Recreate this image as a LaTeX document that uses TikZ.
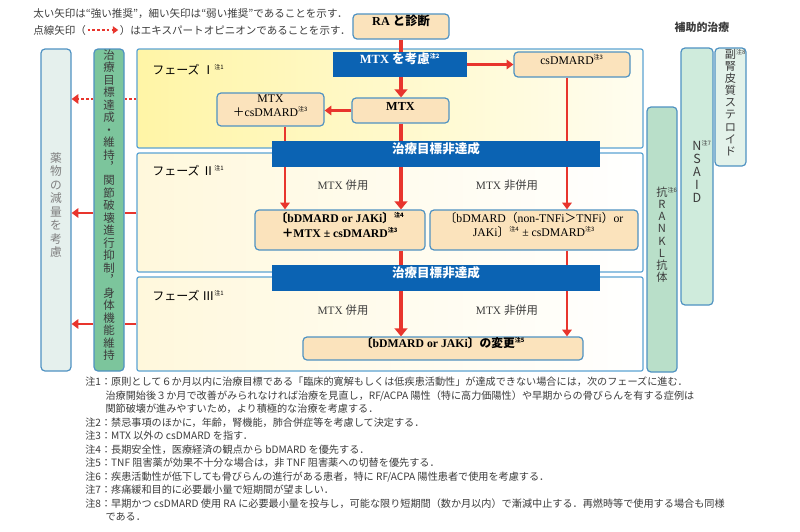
\documentclass[tikz,border=0pt]{standalone}
\usepackage{fontspec}
\setmainfont{Liberation Serif}
\newfontfamily\jp{Noto Sans CJK JP}
\usetikzlibrary{arrows.meta,fit,positioning}

\definecolor{arrowred}{HTML}{E8352D}
\definecolor{barblue}{HTML}{0B63B3}
\definecolor{boxfill}{HTML}{FBE3BC}
\definecolor{boxline}{HTML}{4F92C2}
\definecolor{panelline}{HTML}{5BA3D3}
\definecolor{goalgreen}{HTML}{7CC59C}
\definecolor{ranklfill}{HTML}{B9DFC9}
\definecolor{nsaidfill}{HTML}{CFEBDC}
\definecolor{sterfill}{HTML}{E3F2EA}
\definecolor{reducefill}{HTML}{E5F0ED}
\definecolor{phaseIa}{HTML}{FFF5A6}
\definecolor{phaseIb}{HTML}{FFFDF0}
\definecolor{phaseIIa}{HTML}{FFF8DC}
\definecolor{inkgrey}{HTML}{3C3C3C}

\newcommand{\chu}[1]{\textsuperscript{\jp\fontsize{4.5}{5}\selectfont 注#1}}
\newcommand{\jt}[1]{{\jp #1}}

\begin{document}
\begin{tikzpicture}[x=0.75pt, y=-0.75pt,
  box/.style={draw=boxline, line width=0.9pt, fill=boxfill, rounded corners=3pt, inner sep=0pt, align=center, font=\fontsize{8.8}{10.6}\selectfont},
  bar/.style={fill=barblue, inner sep=0pt, text=white, font=\bfseries\fontsize{9.4}{10}\selectfont},
  panel/.style={draw=panelline, line width=0.9pt, rounded corners=1.5pt, inner sep=0pt},
  col/.style={draw=boxline, line width=0.9pt, rounded corners=3pt, inner sep=0pt, align=center, text=inkgrey},
  phase/.style={inner sep=0pt, anchor=west, font=\jp\fontsize{9}{10}\selectfont},
  lab/.style={inner sep=0pt, text=inkgrey, font=\fontsize{8.5}{10}\selectfont},
  note/.style={inner sep=0pt, text=inkgrey, font=\jp\fontsize{7.9}{10}\selectfont},
  strongline/.style={arrowred, line width=3.6pt},
  strongarr/.style={strongline, -{Triangle[length=6pt,width=9.5pt]}},
  weakline/.style={arrowred, line width=1.8pt},
  weakarr/.style={weakline, -{Triangle[length=5pt,width=7pt]}},
  expert/.style={arrowred, line width=1.8pt, dash pattern=on 2pt off 1.6pt}]
\useasboundingbox (0,0) rectangle (800,532);
\fill[white] (0,0) rectangle (800,532);

% legend
\node[note, anchor=west] (hd1) at (33,14) {太い矢印は“強い推奨”，細い矢印は“弱い推奨”であることを示す．};
\node[note, anchor=west] (hd2) at (33,30) {点線矢印（};
\node[note, right=25pt of hd2] (hd3) {）はエキスパートオピニオンであることを示す．};
\draw[expert, line width=1.5pt, -{Triangle[length=4pt,width=5.5pt]}] ([xshift=1pt]hd2.east) -- ([xshift=-1pt]hd3.west);

% phases
\node[panel, fit={(137,49)(643,148)}, left color=phaseIa, right color=phaseIb] (ph1) {};
\node[panel, fit={(137,153)(643,272)}, left color=phaseIIa, right color=white] (ph2) {};
\node[panel, fit={(137,277)(643,371)}, left color=phaseIIa, right color=white] (ph3) {};
\node[phase] (t1) at (152,70) {フェーズ Ⅰ\chu{1}};
\node[phase] (t2) at (152,171) {フェーズ Ⅱ\chu{1}};
\node[phase] (t3) at (152,296) {フェーズ Ⅲ\chu{1}};

% side columns
\node[col, fill=reducefill, fit={(41,49)(71,371)}, text=gray, font=\jp\fontsize{8.8}{10.1}\selectfont] (reduce) {薬\\物\\の\\減\\量\\を\\考\\慮};
\node[col, fill=goalgreen, fit={(94,49)(124,371)}, text=inkgrey, font=\jp\fontsize{8.6}{9.4}\selectfont] (goal) {治\\療\\目\\標\\達\\成\\・\\維\\持\\︐\\関\\節\\破\\壊\\進\\行\\抑\\制\\︐\\身\\体\\機\\能\\維\\持};
\node[col, fill=ranklfill, fit={(647,107)(677,372)}, font=\jp\fontsize{8.4}{9.1}\selectfont] (rankl) {抗\rlap{\raisebox{3pt}{\fontsize{4.5}{5}\selectfont 注6}}\\R\\A\\N\\K\\L\\抗\\体};
\node[col, fill=nsaidfill, fit={(681,48)(713,305)}, font=\jp\fontsize{9.4}{9.8}\selectfont] (nsaid) {N\rlap{\raisebox{4pt}{\fontsize{4.5}{5}\selectfont 注7}}\\S\\A\\I\\D};
\node[col, fill=sterfill, fit={(715,48)(746,166)}, font=\jp\fontsize{8.4}{9.1}\selectfont] (ster) {副\rlap{\raisebox{3pt}{\fontsize{4.5}{5}\selectfont 注8}}\\腎\\皮\\質\\ス\\テ\\ロ\\イ\\ド};
\node[inner sep=0pt, font=\jp\bfseries\fontsize{8.2}{10}\selectfont, text=inkgrey] (aux) at (702,27) {補助的治療};

% flow
\node[box, fit={(353,14)(449,39)}, font=\bfseries\fontsize{9.2}{10}\selectfont] (ra) {RA \jt{と診断}};
\node[bar, fit={(333,52)(467,77)}] (consider) {MTX \jt{を考慮}\chu{2}};
\node[box, fit={(514,52)(630,77)}] (csd) {csDMARD\chu{3}};
\node[box, fit={(352,98)(449,123)}, font=\bfseries\fontsize{9.2}{10}\selectfont] (mtx) {MTX};
\node[box, fit={(217,93)(324,126)}] (mtxcs) {MTX\\\jt{＋}csDMARD\chu{3}};
\node[bar, fit={(272,141)(600,167)}] (nr1) {\jt{治療目標非達成}};
\node[box, fit={(255,210)(425,250)}, font=\bfseries\fontsize{8.8}{11}\selectfont] (combo) {\jt{〔}bDMARD or JAKi\jt{〕}\chu{4}\\\jt{＋}MTX ± csDMARD\chu{3}};
\node[box, fit={(430,210)(638,250)}] (nocombo) {\jt{〔}bDMARD\jt{（}non-TNFi\jt{＞}TNFi\jt{）}or\\JAKi\jt{〕}\chu{4} ± csDMARD\chu{3}};
\node[bar, fit={(272,265)(600,291)}] (nr2) {\jt{治療目標非達成}};
\node[box, fit={(303,337)(583,360)}, font=\bfseries\fontsize{8.8}{10}\selectfont] (change) {\jt{〔}bDMARD or JAKi\jt{〕の変更}\chu{5}};

\node[lab] (with1) at (343,185) {MTX \jt{併用}};
\node[lab] (wo1) at (507,185) {MTX \jt{非併用}};
\node[lab] (with2) at (343,310) {MTX \jt{併用}};
\node[lab] (wo2) at (507,310) {MTX \jt{非併用}};

\coordinate (xL) at (285,0);
\coordinate (xM) at (401,0);
\coordinate (xR) at (567,0);
\coordinate (r1) at (0,99);
\coordinate (r2) at (0,213);
\coordinate (r3) at (0,324);

% arrows
\draw[strongline] (ra.south -| xM) -- (consider.north -| xM);
\draw[strongarr] (consider.south -| xM) -- (mtx.north -| xM);
\draw[weakarr] (consider.east) -- (csd.west);
\draw[weakarr] (mtx.west) -- (mtxcs.east |- mtx.west);
\draw[strongline] (mtx.south -| xM) -- (nr1.north -| xM);
\draw[weakline] (mtxcs.south -| xL) -- (nr1.north -| xL);
\draw[weakline] (csd.south -| xR) -- (nr1.north -| xR);
\draw[weakarr] (nr1.south -| xL) -- (combo.north -| xL);
\draw[strongarr] (nr1.south -| xM) -- (combo.north -| xM);
\draw[weakarr] (nr1.south -| xR) -- (nocombo.north -| xR);
\draw[strongline] (combo.south -| xM) -- (nr2.north -| xM);
\draw[weakline] (nocombo.south -| xR) -- (nr2.north -| xR);
\draw[strongarr] (nr2.south -| xM) -- (change.north -| xM);
\draw[weakarr] (nr2.south -| xR) -- (change.north -| xR);

\draw[expert] (ph1.west |- r1) -- (goal.east |- r1);
\draw[expert, -{Triangle[length=5pt,width=7pt]}] (goal.west |- r1) -- (reduce.east |- r1);
\draw[weakline] (ph2.west |- r2) -- (goal.east |- r2);
\draw[weakarr] (goal.west |- r2) -- (reduce.east |- r2);
\draw[weakline] (ph3.west |- r3) -- (goal.east |- r3);
\draw[weakarr] (goal.west |- r3) -- (reduce.east |- r3);

% notes
\node[note, anchor=north west, align=left, font=\jp\fontsize{7.6}{10.1}\selectfont] (notes) at (85,377) {%
注1：原則として６か月以内に治療目標である「臨床的寛解もしくは低疾患活動性」が達成できない場合には，次のフェーズに進む．\\
\hspace*{2em}治療開始後３か月で改善がみられなければ治療を見直し，RF/ACPA 陽性（特に高力価陽性）や早期からの骨びらんを有する症例は\\
\hspace*{2em}関節破壊が進みやすいため，より積極的な治療を考慮する．\\
注2：禁忌事項のほかに，年齢，腎機能，肺合併症等を考慮して決定する．\\
注3：MTX 以外の csDMARD を指す．\\
注4：長期安全性，医療経済の観点から bDMARD を優先する．\\
注5：TNF 阻害薬が効果不十分な場合は，非 TNF 阻害薬への切替を優先する．\\
注6：疾患活動性が低下しても骨びらんの進行がある患者，特に RF/ACPA 陽性患者で使用を考慮する．\\
注7：疼痛緩和目的に必要最小量で短期間が望ましい．\\
注8：早期かつ csDMARD 使用 RA に必要最小量を投与し，可能な限り短期間（数か月以内）で漸減中止する．再燃時等で使用する場合も同様\\
\hspace*{2em}である．};
\end{tikzpicture}
\end{document}
